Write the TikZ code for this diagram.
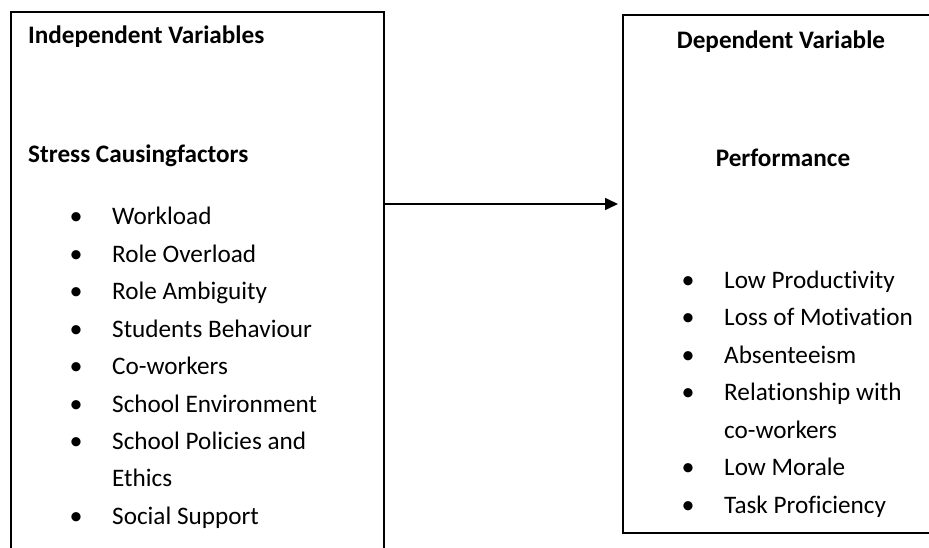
\documentclass[tikz,border=0pt]{standalone}
\usepackage{fontspec}
\setmainfont{Carlito}[Ligatures={NoCommon}]
\usetikzlibrary{arrows.meta}
\begin{document}
\begin{tikzpicture}[x=1pt,y=-1pt,
  txt/.style={anchor=base west, inner sep=0pt, font=\fontsize{25.2}{37.4}\selectfont},
  hd/.style={anchor=base west, inner sep=0pt, font=\fontsize{25.2}{37.4}\selectfont\bfseries},
  bul/.style={anchor=base, inner sep=0pt, font=\fontsize{26}{37.4}\selectfont},
  box/.style={draw, line width=2pt, inner sep=0pt, anchor=north west},
  link/.style={-{Triangle[length=13pt,width=12pt]}, line width=1.6pt}]
\useasboundingbox (0,0) rectangle (929,548);
\node[box, minimum width=373pt, minimum height=560pt] (lbox) at (10,11) {};
\node[box, minimum width=330pt, minimum height=518pt] (rbox) at (622,14) {};
% left texts
\node[hd] (ivar) at (28,44) {Independent Variables};
\node[hd] (scf) at (28,163) {Stress Causingfactors};
\node[bul] (b1) at (76,225) {•};
\node[txt] (t1) at (112,225) {Workload};
\node[bul] (b2) at (76,262.4) {•};
\node[txt] (t2) at (112,262.4) {Role Overload};
\node[bul] (b3) at (76,299.8) {•};
\node[txt] (t3) at (112,299.8) {Role Ambiguity};
\node[bul] (b4) at (76,337.2) {•};
\node[txt] (t4) at (112,337.2) {Students Behaviour};
\node[bul] (b5) at (76,374.6) {•};
\node[txt] (t5) at (112,374.6) {Co-workers};
\node[bul] (b6) at (76,412) {•};
\node[txt] (t6) at (112,412) {School Environment};
\node[bul] (b7) at (76,449.4) {•};
\node[txt] (t7) at (112,449.4) {School Policies and};
\node[txt] (t7b) at (112,486.8) {Ethics};
\node[bul] (b8) at (76,524.2) {•};
\node[txt] (t8) at (112,524.2) {Social Support};
% right texts
\node[hd, anchor=base] (dvar) at (781,49) {Dependent Variable};
\node[hd, anchor=base] (perf) at (783,167) {Performance};
\node[bul] (c1) at (688,288) {•};
\node[txt] (u1) at (724,288) {Low Productivity};
\node[bul] (c2) at (688,325.5) {•};
\node[txt] (u2) at (724,325.5) {Loss of Motivation};
\node[bul] (c3) at (688,363) {•};
\node[txt] (u3) at (724,363) {Absenteeism};
\node[bul] (c4) at (688,400.5) {•};
\node[txt] (u4) at (724,400.5) {Relationship with};
\node[txt] (u4b) at (724,438) {co-workers};
\node[bul] (c5) at (688,475.5) {•};
\node[txt] (u5) at (724,475.5) {Low Morale};
\node[bul] (c6) at (688,513) {•};
\node[txt] (u6) at (724,513) {Task Proficiency};
% arrow
\coordinate (ay) at (0,204);
\draw[link] (lbox.north east |- ay) -- ([xshift=-4pt]rbox.north west |- ay);
\end{tikzpicture}
\end{document}
